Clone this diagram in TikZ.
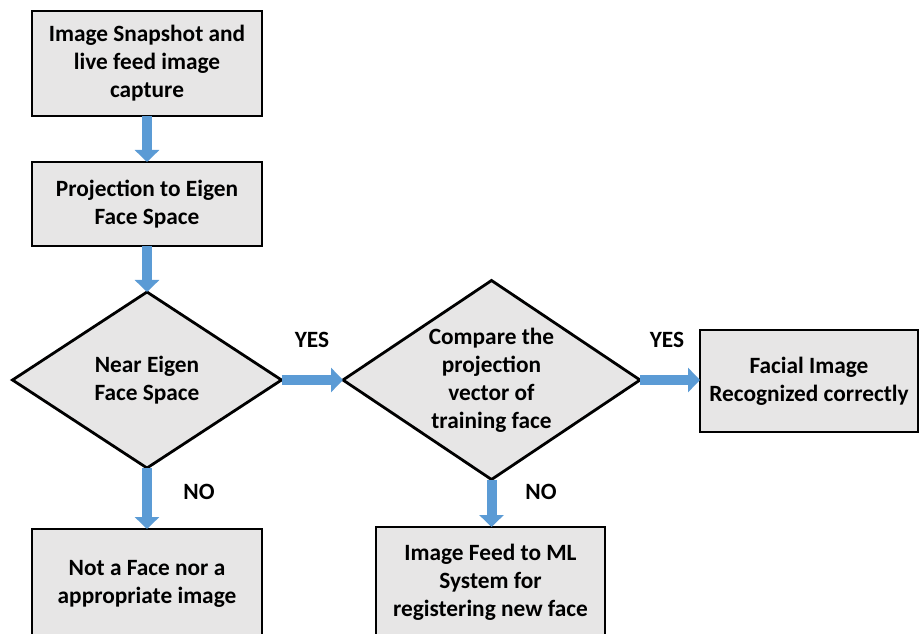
\documentclass[tikz,border=0pt]{standalone}
\usepackage{fontspec}
\setmainfont{Carlito}
\usepackage{tikz}
\usetikzlibrary{shapes.geometric,arrows.meta}

\definecolor{boxgray}{HTML}{E7E6E6}
\definecolor{flowblue}{HTML}{5B9BD5}

\begin{document}
\begin{tikzpicture}[x=0.75pt, y=-0.75pt,
    every node/.style={font=\fontsize{17.5}{21}\selectfont\bfseries, align=center},
    stepbox/.style={rectangle, draw=black, line width=2.1pt, fill=boxgray, inner sep=0pt, outer sep=0pt},
    decision/.style={diamond, draw=black, line width=2.1pt, fill=boxgray, aspect=1.5, inner sep=0pt, outer sep=0pt},
    flow/.style={draw=flowblue, line width=7.5pt, -{Triangle[length=9pt, width=18pt]}}]
    \useasboundingbox (0, 0) rectangle (919, 634);
    \node[stepbox, minimum width=172.5pt, minimum height=78.75pt] (capture) at (147, 63.5)
        {Image Snapshot and\\live feed image\\capture};
    \node[stepbox, minimum width=172.5pt, minimum height=63pt] (project) at (147, 204)
        {Projection to Eigen\\Face Space};
    \node[decision, minimum width=201.75pt, minimum height=132pt] (near) at (147, 380)
        {Near Eigen\\Face Space};
    \node[decision, minimum width=222.75pt, minimum height=149.25pt] (compare) at (491.5, 380)
        {Compare the\\projection\\vector of\\training face};
    \node[stepbox, minimum width=163.5pt, minimum height=76.5pt] (recog) at (809, 381)
        {Facial Image\\Recognized correctly};
    \node[stepbox, minimum width=172.5pt, minimum height=82.5pt] (notface) at (147, 584)
        {Not a Face nor a\\appropriate image};
    \node[stepbox, minimum width=171.75pt, minimum height=82.5pt] (register) at (490.5, 582)
        {Image Feed to ML\\System for\\registering new face};
    \draw[flow] (capture) -- (project);
    \draw[flow] (project) -- (near);
    \draw[flow] (near.east) -- (compare.west);
    \draw[flow] (compare.east) -- (recog.west |- compare.east);
    \draw[flow] (near.south) -- (notface.north);
    \draw[flow] (compare.south) -- (register.north -| compare.south);
    \node (yes1) at (312, 340) {YES};
    \node (yes2) at (667, 340) {YES};
    \node (no1) at (199, 492) {NO};
    \node (no2) at (541, 492) {NO};
\end{tikzpicture}
\end{document}
